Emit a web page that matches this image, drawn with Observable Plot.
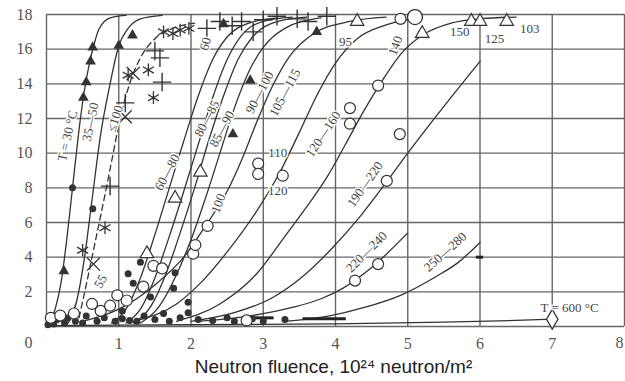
<!DOCTYPE html>
<html>
<head>
<meta charset="utf-8">
<script src="https://cdn.jsdelivr.net/npm/d3@7"></script>
<script src="https://cdn.jsdelivr.net/npm/@observablehq/plot@0.6"></script>
<style>
  html, body { margin: 0; padding: 0; background: #fff; }
  #chart svg { display: block; }
</style>
</head>
<body>
<div id="chart"></div>
<script>
// ---- Curves (x = fluence, y = swelling) ----
const t30   = [[0.02,0],[0.12,1],[0.2,2.5],[0.28,5],[0.36,8],[0.44,11],[0.52,13.5],[0.6,15.3],[0.66,16.3],[0.72,17.1],[0.8,17.6],[0.92,17.85],[1.1,17.95]];
const c35_50 = [[0.3,0.2],[0.42,1.5],[0.52,3.8],[0.63,7.3],[0.75,11.1],[0.88,14.0],[1.0,16.2],[1.13,17.2],[1.3,17.75],[1.6,17.95]];
const le100 = [[0.45,0.5],[0.55,2.4],[0.66,4.6],[0.78,7.0],[0.9,9.5],[1.02,12.0],[1.15,14.0],[1.3,15.5],[1.5,16.6],[1.75,17.2],[2.05,17.5]];
const c60_80 = [[0.9,0.2],[1.1,1.0],[1.3,2.8],[1.5,5.3],[1.7,8.0],[1.9,10.7],[2.1,13.3],[2.3,15.4],[2.5,16.7],[2.8,17.5],[3.2,17.8]];
const c80_85 = [[1.1,0.2],[1.3,1.0],[1.5,2.8],[1.7,5.2],[1.9,7.8],[2.1,10.5],[2.3,13.2],[2.5,15.4],[2.7,16.8],[3.0,17.6],[3.4,17.85]];
const c85_90 = [[1.2,0.2],[1.45,1.2],[1.65,3.0],[1.85,5.4],[2.05,8.0],[2.25,10.8],[2.45,13.3],[2.65,15.4],[2.85,16.7],[3.2,17.6],[3.6,17.85]];
const c90_100 = [[1.3,0.2],[1.55,1.1],[1.8,3.0],[2.0,5.0],[2.2,7.4],[2.4,10.0],[2.6,12.6],[2.8,14.7],[3.0,16.1],[3.3,17.2],[3.8,17.8]];
const c100 = [[0.5,0.3],[1.0,1.0],[1.5,2.4],[1.9,4.0],[2.2,5.8],[2.5,7.8],[2.72,9.8],[2.92,11.9],[3.12,13.8],[3.35,15.5],[3.7,16.9],[4.2,17.6],[4.7,17.85]];
const c105_115 = [[1.2,0.3],[1.8,1.3],[2.13,2.5],[2.5,4.3],[2.9,6.6],[3.23,8.9],[3.5,11.2],[3.75,13.4],[4.0,15.2],[4.3,16.6],[4.7,17.4],[5.2,17.8]];
const c120_160 = [[1.8,0.3],[2.4,1.3],[2.9,3.0],[3.3,5.2],[3.6,6.9],[3.88,8.6],[4.15,10.6],[4.4,12.5],[4.65,14.2],[4.9,15.7],[5.2,16.8],[5.6,17.5],[6.0,17.75],[6.5,17.85]];
const c190_220 = [[2.0,0.3],[2.6,0.8],[3.1,1.6],[3.55,2.9],[3.95,4.5],[4.35,6.4],[4.7,8.3],[5.0,10.0],[5.5,12.7],[6.0,15.3]];
const c220_240 = [[2.1,0.3],[2.8,0.6],[3.4,1.1],[3.8,1.6],[4.1,2.2],[4.5,3.4],[5.0,5.4]];
const c250_280 = [[3.3,0.3],[3.9,0.6],[4.4,1.1],[4.9,1.8],[5.4,2.9],[5.7,3.7],[6.0,4.85]];
const t600 = [[0,0.05],[2,0.1],[4,0.15],[5.5,0.25],[6.5,0.35],[7.0,0.42]];

// ---- Measured points ----
const filledTriangles = [[0.24,3.2],[0.51,13.2],[0.55,14.1],[0.61,15.3],[0.64,16.1],[1.0,16.2],[1.19,16.8],[2.58,11.1],[2.82,14.2],[3.74,17.0],[2.45,17.45]];
const openTriangles = [[1.78,7.4],[2.13,8.9],[1.39,4.2],[4.3,17.6],[5.2,16.9],[5.88,17.6],[6.0,17.6],[6.37,17.6]];
const openCircles = [[0.06,0.5],[0.19,0.63],[0.38,0.75],[0.63,1.3],[0.75,0.9],[0.88,1.2],[0.98,1.8],[1.11,1.5],[1.34,2.3],[1.48,3.5],[1.6,3.35],[2.03,4.2],[2.06,4.7],[2.23,5.8],[2.93,9.4],[2.93,8.8],[3.27,8.7],[4.2,12.6],[4.2,11.7],[4.59,13.9],[4.89,11.1],[4.71,8.4],[4.27,2.65],[4.59,3.6],[2.77,0.35],[4.9,17.75]];
const bigCircles = [[5.1,17.85]];
const filledDots = [[0.36,8.0],[0.64,6.8],[1.13,3.05],[1.3,3.7],[1.78,3.1],[1.76,2.2],[1.96,1.4],[1.44,1.7],[1.05,0.9],[1.62,0.75],[1.96,0.8],[1.2,2.5],
  [0.02,0.1],[0.05,0.3],[0.1,0.15],[0.15,0.4],[0.25,0.2],[0.3,0.5],[0.4,0.3],[0.5,0.2],[0.55,0.6],[0.7,0.3],[0.8,0.5],[0.95,0.3],[1.05,0.45],[1.15,0.35],[1.25,0.3],[1.35,0.6],[1.5,0.4],[1.7,0.3],[1.85,0.5],[2.1,0.4],[2.3,0.35],[2.5,0.5],[2.6,0.3],[2.85,0.45],[3.0,0.3],[3.3,0.4]];
const stars = [[0.5,4.4],[0.81,5.7],[1.13,14.5],[1.41,14.8],[1.48,13.2],[1.75,16.9],[1.62,17.0],[1.85,17.1],[1.97,17.2]];
const pluses = [[0.88,8.1],[1.09,12.9],[1.6,14.1],[1.57,15.5],[1.5,15.9],[2.22,17.2],[2.4,17.6],[2.57,17.35],[2.7,17.6],[2.86,17.0],[3.0,17.7],[3.19,17.9],[3.47,17.75],[3.62,17.6],[3.88,17.9]];
const crosses = [[1.09,12.1],[0.65,3.6],[1.2,14.6]];
const diamonds = [[7.0,0.42]];
const dashes = [[5.95,6.05,4.0],[3.55,4.15,0.45],[2.85,3.15,0.5]];

// ---- Labels ----
const labels = [
  ["T = 30 °C",0.29,11.0,-77],["35—50",0.61,11.8,-78],["≤100",0.95,12.0,-72],["55",0.75,2.6,-60],
  ["60—80",1.67,8.9,-62],["80—85",2.22,12.0,-62],["85—90",2.43,11.4,-62],["90—100",2.95,13.5,-62],
  ["105—115",3.3,13.5,-62],["120—160",3.83,11.1,-56],["190—220",4.41,8.2,-55],["220—240",4.43,4.3,-45],
  ["250—280",5.52,4.3,-42],["T = 600 °C",7.24,1.1,0],["60",2.2,16.3,-75],["95",4.14,16.4,0],
  ["140",4.83,16.2,-70],["150",5.72,17.0,0],["125",6.2,16.6,0],["103",6.69,17.2,0],
  ["110",3.2,10.0,0],["120",3.2,7.8,0],["100",2.38,7.1,-70]
];
const xTicks = [1,2,3,4,5,6,7];
const xLastTick = [8];
const yTicks = [2,4,6,8,10,12,14,16,18];
const xTitle = "Neutron fluence, 10²⁴ neutron/m²";

const curves = [
  ["t30",t30,false],["c35_50",c35_50,false],["le100",le100,true],["c60_80",c60_80,false],
  ["c80_85",c80_85,false],["c85_90",c85_90,false],["c90_100",c90_100,false],["c100",c100,false],
  ["c105_115",c105_115,false],["c120_160",c120_160,false],["c190_220",c190_220,false],
  ["c220_240",c220_240,false],["c250_280",c250_280,false],["t600",t600,false]
];
const lineRows = curves.flatMap(([name, pts, dash]) => pts.map(([x,y]) => ({name, x, y, dash})));
const solid = lineRows.filter(d => !d.dash);
const dashed = lineRows.filter(d => d.dash);
const ink = "#333";

const chart = Plot.plot({
  width: 625, height: 381,
  marginLeft: 46, marginRight: 1, marginTop: 14, marginBottom: 55,
  style: {fontFamily: "Liberation Serif", fontSize: "16px", color: "#555", background: "white"},
  x: {domain: [0, 8]},
  y: {domain: [0, 18]},
  marks: [
    Plot.gridX([0,1,2,3,4,5,6,7,8], {stroke: "#666", strokeOpacity: 1, strokeWidth: 1.4}),
    Plot.gridY([0,2,4,6,8,10,12,14,16,18], {stroke: "#666", strokeOpacity: 1, strokeWidth: 1.4}),
    Plot.axisX(xTicks, {tickSize: 0, tickPadding: 11, label: null, fill: "#555"}),
    Plot.text(xLastTick, {x: d => d, y: 0, text: d => String(d), dx: -5, dy: 16, fill: "#555", fontSize: 16}),
    Plot.axisY(yTicks, {tickSize: 0, tickPadding: 14, label: null, fill: "#555"}),
    Plot.text([0], {x: 0, y: 0, text: () => "0", dx: -14, dy: 16, textAnchor: "end", fill: "#555", fontSize: 16}),
    Plot.text([xTitle], {frameAnchor: "bottom", dy: 46, dx: -2, text: d => d, fontFamily: "Liberation Sans", fontSize: 19, fill: "#222"}),
    Plot.line(solid, {x: "x", y: "y", z: "name", curve: "monotone-x", stroke: ink, strokeWidth: 1.3}),
    Plot.line(dashed, {x: "x", y: "y", z: "name", curve: "monotone-x", stroke: ink, strokeWidth: 1.3, strokeDasharray: "6,4"}),
    Plot.ruleY(dashes, {x1: d => d[0], x2: d => d[1], y: d => d[2], stroke: "#222", strokeWidth: 3}),
    Plot.dot(filledDots, {x: d => d[0], y: d => d[1], r: 3.5, fill: "#333", stroke: "none"}),
    Plot.dot(openCircles, {x: d => d[0], y: d => d[1], r: 5.5, fill: "white", stroke: ink, strokeWidth: 1.2}),
    Plot.dot(bigCircles, {x: d => d[0], y: d => d[1], r: 7.5, fill: "white", stroke: ink, strokeWidth: 1.3}),
    Plot.dot(filledTriangles, {x: d => d[0], y: d => d[1], symbol: "triangle", r: 4, fill: "#333", stroke: "none"}),
    Plot.dot(openTriangles, {x: d => d[0], y: d => d[1], symbol: "triangle", r: 5, fill: "white", stroke: ink, strokeWidth: 1.2}),
    Plot.dot(stars, {x: d => d[0], y: d => d[1], symbol: "asterisk", r: 6, stroke: ink, strokeWidth: 1.3}),
    Plot.dot(pluses, {x: d => d[0], y: d => d[1], symbol: "plus", r: 6, stroke: ink, strokeWidth: 1.4}),
    Plot.dot(crosses, {x: d => d[0], y: d => d[1], symbol: "times", r: 6, stroke: ink, strokeWidth: 1.3}),
    Plot.dot(diamonds, {x: d => d[0], y: d => d[1], symbol: "diamond", r: 6, fill: "white", stroke: ink, strokeWidth: 1.3}),
    Plot.text(labels, {x: d => d[1], y: d => d[2], text: d => d[0], rotate: d => d[3], fontSize: 13, fill: "#444", stroke: "white", strokeWidth: 3, fontFamily: "Liberation Serif"})
  ]
});
document.getElementById("chart").appendChild(chart);
</script>
</body>
</html>
